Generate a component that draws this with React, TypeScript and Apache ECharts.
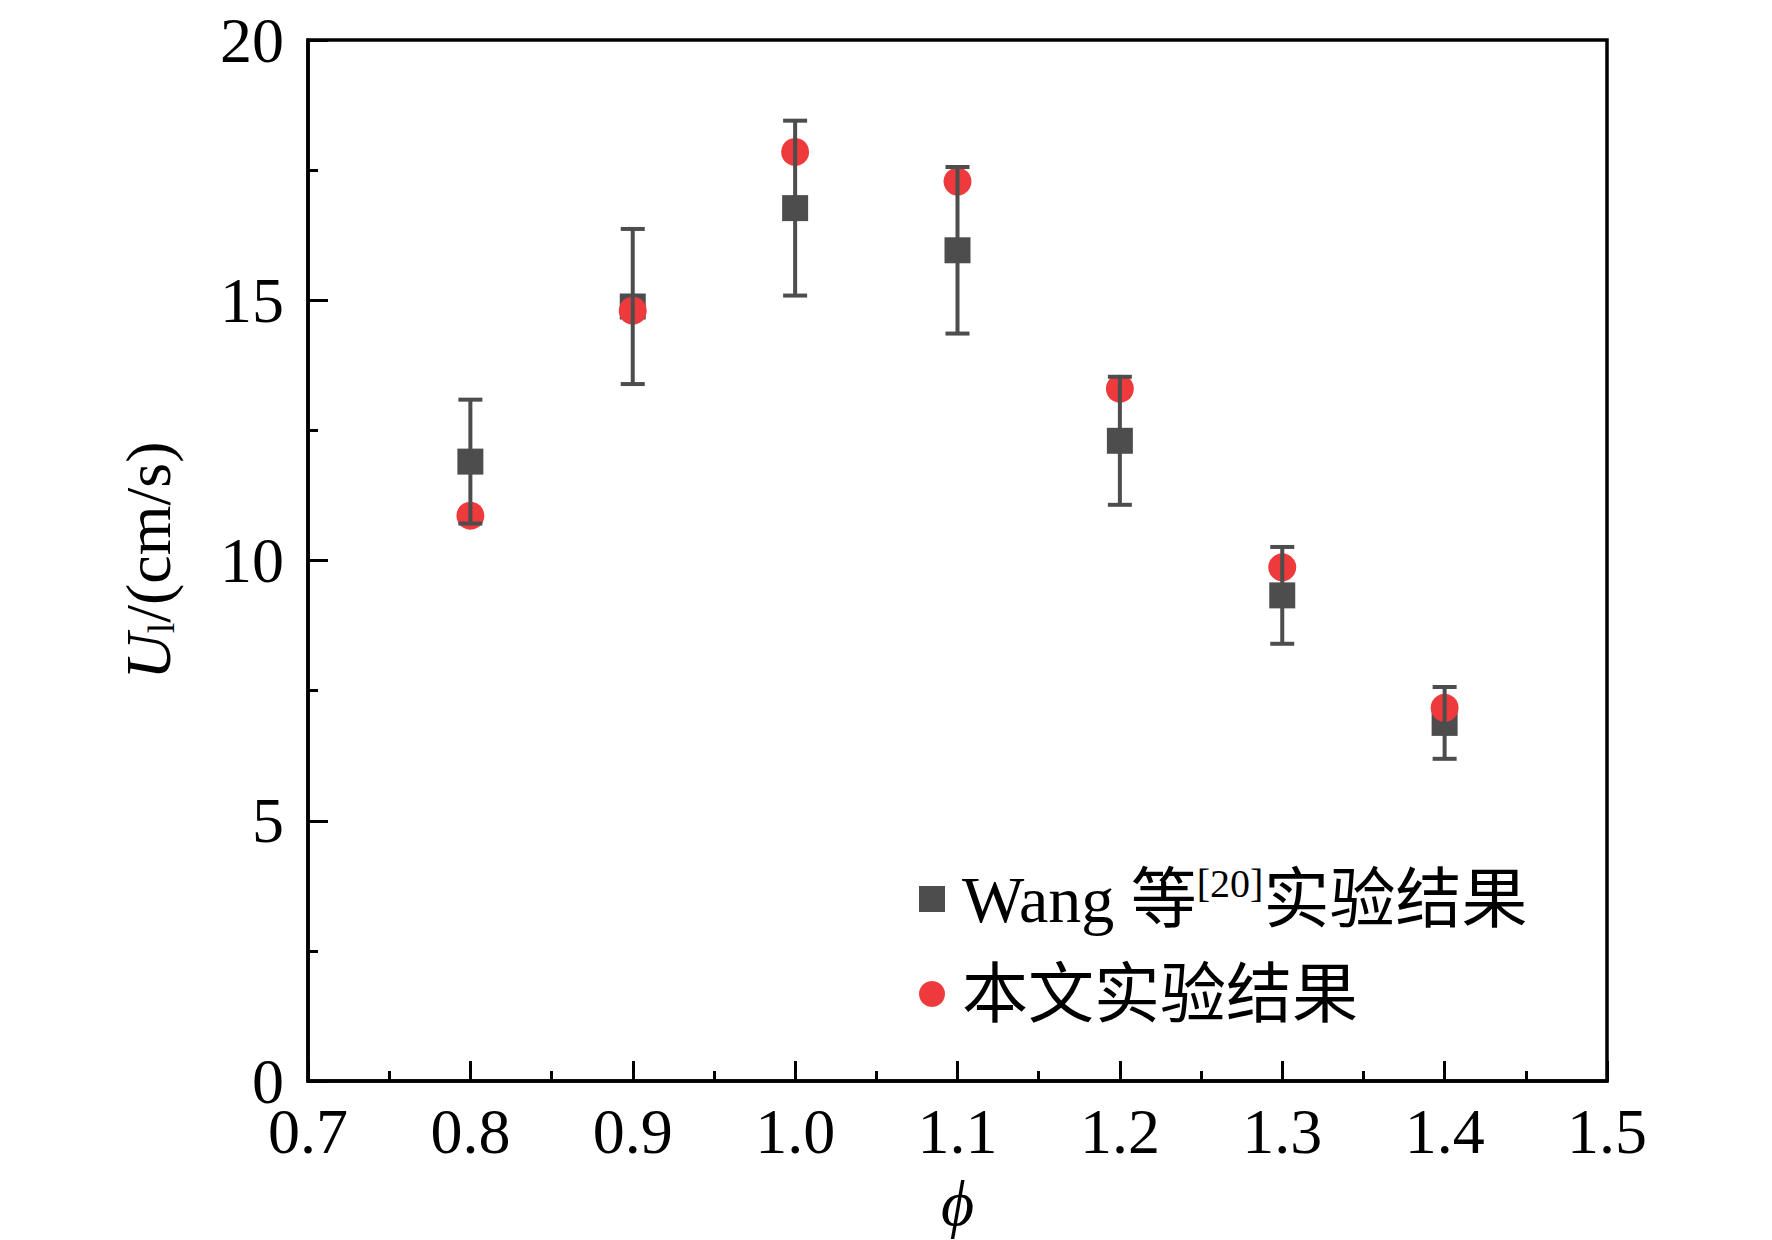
import React, { useEffect, useRef } from "react";
import * as echarts from "echarts";

const phi = [0.8, 0.9, 1.0, 1.1, 1.2, 1.3, 1.4];
const wangValues = [11.9, 14.88, 16.77, 15.96, 12.3, 9.33, 6.88];
const wangErrors = [1.19, 1.49, 1.68, 1.6, 1.23, 0.93, 0.69];
const presentValues = [10.86, 14.8, 17.85, 17.28, 13.3, 9.87, 7.17];
const xTicks = { min: 0.7, max: 1.5, interval: 0.1 };
const yTicks = { min: 0, max: 20, interval: 5 };

const FONT = '"Liberation Serif", "Times New Roman", "Noto Sans CJK SC", serif';
const GRAY = "#4d4d4d";
const RED = "#ee3a3c";

export default function App() {
  const ref = useRef<HTMLDivElement>(null);
  useEffect(() => {
    if (!ref.current) return;
    const chart = echarts.init(ref.current, null, { renderer: "svg" });
    const errData = phi.map((p, i) => [p, wangValues[i] - wangErrors[i], wangValues[i] + wangErrors[i]]);
    chart.setOption({
      animation: false,
      backgroundColor: "#fff",
      grid: {
        left: 308,
        right: 165,
        top: 40,
        bottom: 157,
        show: true,
        borderColor: "#000",
        borderWidth: 3.5,
      },
      legend: {
        orient: "vertical",
        left: 914,
        top: 858,
        itemWidth: 26,
        itemHeight: 26,
        itemGap: 23,
        data: ["wang", "present"],
        formatter: (name: string) =>
          name === "wang" ? "Wang 等{sup|[20]}实验结果" : "本文实验结果",
        textStyle: {
          fontFamily: FONT,
          fontSize: 66,
          color: "#000",
          lineHeight: 72,
          padding: [0, 0, 0, 12],
          rich: {
            sup: {
              fontFamily: FONT,
              fontSize: 40,
              lineHeight: 44,
              verticalAlign: "top",
              color: "#000",
            },
          },
        },
      },
      xAxis: {
        type: "value",
        min: xTicks.min,
        max: xTicks.max,
        interval: xTicks.interval,
        name: "ϕ",
        nameLocation: "middle",
        nameGap: 90,
        nameTextStyle: { fontFamily: FONT, fontSize: 64, fontStyle: "italic", color: "#000" },
        axisLine: { show: true, onZero: false, lineStyle: { color: "#000", width: 3.5 } },
        axisTick: { show: true, inside: true, length: 20, lineStyle: { color: "#000", width: 3 } },
        minorTick: { show: true, splitNumber: 2, length: 10, lineStyle: { color: "#000", width: 3 } },
        splitLine: { show: false },
        axisLabel: {
          fontFamily: FONT,
          fontSize: 64,
          color: "#000",
          margin: 18,
          formatter: (v: number) => v.toFixed(1),
        },
      },
      yAxis: {
        type: "value",
        min: yTicks.min,
        max: yTicks.max,
        interval: yTicks.interval,
        name: "{i|U}{sub|l}/(cm/s)",
        nameLocation: "middle",
        nameRotate: 90,
        nameGap: 128,
        nameTextStyle: {
          fontFamily: FONT,
          fontSize: 64,
          color: "#000",
          lineHeight: 64,
          rich: {
            i: { fontFamily: FONT, fontSize: 64, fontStyle: "italic", lineHeight: 64, color: "#000" },
            sub: { fontFamily: FONT, fontSize: 38, lineHeight: 60, verticalAlign: "bottom", color: "#000" },
          },
        },
        axisLine: { show: true, onZero: false, lineStyle: { color: "#000", width: 3.5 } },
        axisTick: { show: true, inside: true, length: 20, lineStyle: { color: "#000", width: 3 } },
        minorTick: { show: true, splitNumber: 2, length: 10, lineStyle: { color: "#000", width: 3 } },
        splitLine: { show: false },
        axisLabel: { fontFamily: FONT, fontSize: 64, color: "#000", margin: 24 },
      },
      series: [
        {
          name: "wang",
          type: "scatter",
          symbol: "rect",
          symbolSize: 26,
          itemStyle: { color: GRAY, opacity: 1 },
          data: phi.map((p, i) => [p, wangValues[i]]),
          z: 2,
        },
        {
          name: "present",
          type: "scatter",
          symbol: "circle",
          symbolSize: 28,
          itemStyle: { color: RED, opacity: 1 },
          data: phi.map((p, i) => [p, presentValues[i]]),
          z: 3,
        },
        {
          name: "wangError",
          type: "custom",
          z: 4,
          encode: { x: 0, y: [1, 2] },
          data: errData,
          renderItem: (_params: any, api: any) => {
            const x = api.value(0);
            const lo = api.value(1);
            const hi = api.value(2);
            const pHi = api.coord([x, hi]);
            const pLo = api.coord([x, lo]);
            const hw = 12;
            const style = { stroke: GRAY, lineWidth: 4 };
            return {
              type: "group",
              children: [
                { type: "line", shape: { x1: pHi[0], y1: pHi[1], x2: pLo[0], y2: pLo[1] }, style },
                { type: "line", shape: { x1: pHi[0] - hw, y1: pHi[1], x2: pHi[0] + hw, y2: pHi[1] }, style },
                { type: "line", shape: { x1: pLo[0] - hw, y1: pLo[1], x2: pLo[0] + hw, y2: pLo[1] }, style },
              ],
            };
          },
        },
      ],
    });
    return () => chart.dispose();
  }, []);
  return (
    <div
      ref={ref}
      style={{ position: "fixed", left: 0, top: 0, width: 1772, height: 1240, background: "#fff" }}
    />
  );
}
